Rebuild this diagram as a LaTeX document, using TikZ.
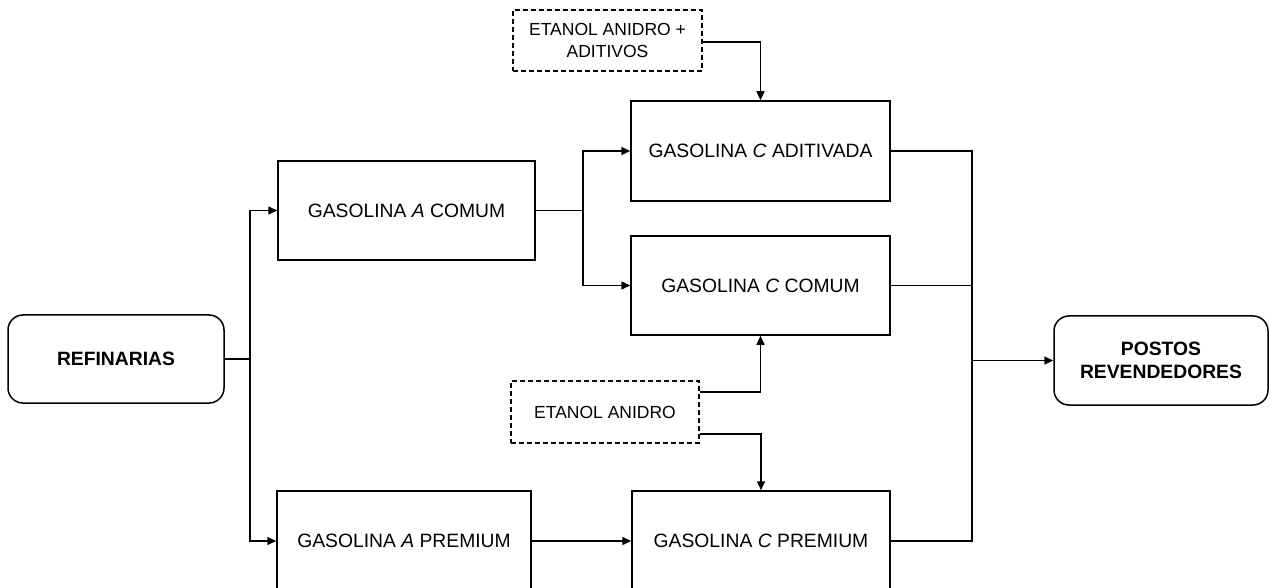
\documentclass[tikz,border=0pt]{standalone}
\usepackage{fontspec}
\setmainfont{Liberation Sans}
\usetikzlibrary{arrows.meta}
\begin{document}
\begin{tikzpicture}[x=1pt,y=-1pt,
  line width=1.5pt,
  box/.style={draw, rectangle, align=center, inner sep=0pt, font=\fontsize{19.3}{23}\selectfont},
  rbox/.style={draw, rectangle, rounded corners=15pt, align=center, inner sep=0pt, font=\fontsize{19.3}{23}\selectfont\bfseries},
  dbox/.style={draw, rectangle, dash pattern=on 5pt off 3pt, align=center, inner sep=0pt, font=\fontsize{17.5}{22}\selectfont},
  arr/.style={-{Triangle[length=9pt,width=8pt]}},
  ]
\useasboundingbox (0,0) rectangle (1270,588);
\clip (0,0) rectangle (1270,588);
\node[rbox, minimum width=216pt, minimum height=88pt] (ref) at (116,359) {REFINARIAS};
\node[box, minimum width=257pt, minimum height=99pt] (acom) at (406.5,210.5) {GASOLINA \textit{A} COMUM};
\node[box, minimum width=254pt, minimum height=100pt] (aprem) at (404,541) {GASOLINA \textit{A} PREMIUM};
\node[box, minimum width=259pt, minimum height=100pt] (cadit) at (760.5,151) {GASOLINA \textit{C} ADITIVADA};
\node[box, minimum width=259pt, minimum height=99pt] (ccom) at (760.5,285.5) {GASOLINA \textit{C} COMUM};
\node[box, minimum width=258pt, minimum height=100pt] (cprem) at (761,541) {GASOLINA \textit{C} PREMIUM};
\node[dbox, minimum width=189pt, minimum height=61pt] (etadit) at (607.5,40.5) {ETANOL ANIDRO +\\ADITIVOS};
\node[dbox, minimum width=188pt, minimum height=62pt] (etan) at (605,412) {ETANOL ANIDRO};
\node[rbox, minimum width=214pt, minimum height=89pt] (postos) at (1161,360.5) {POSTOS\\REVENDEDORES};

\coordinate (j1) at (250,359);
\coordinate (j2) at (583,210.5);
\coordinate (j3) at (972,360.5);

\draw (ref.east) -- (j1);
\draw[arr] (j1) |- (acom.west);
\draw[arr] (j1) |- (aprem.west);
\draw (acom.east) -- (j2);
\draw[arr] (j2) |- (cadit.west);
\draw[arr] (j2) |- (ccom.west);
\draw[arr] (aprem.east) -- (cprem.west);
\draw[arr] ([yshift=-1.5pt]etadit.east) -| (cadit.north);
\draw[arr] ([yshift=20pt]etan.east) -| (ccom.south);
\draw[arr] ([yshift=-22pt]etan.east) -| (cprem.north);
\draw (cadit.east) -| (j3);
\draw (cprem.east) -| (j3);
\draw (ccom.east) -- (ccom.east -| j3);
\draw[arr] (j3) -- (postos.west);
\end{tikzpicture}
\end{document}
